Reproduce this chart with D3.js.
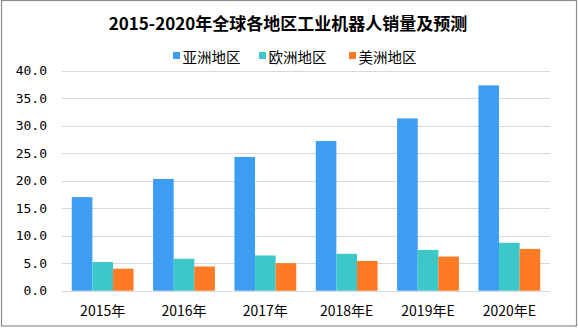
<!DOCTYPE html>
<html>
<head>
<meta charset="utf-8">
<script src="https://cdn.jsdelivr.net/npm/d3@7"></script>
<style>
  body { margin: 0; background: #fff; }
  svg { display: block; }
</style>
</head>
<body>
<div id="chart"></div>
<script>
const years = ['2015年', '2016年', '2017年', '2018年E', '2019年E', '2020年E'];
const seriesNames = ['亚洲地区', '欧洲地区', '美洲地区'];
const asia = [17.0, 20.3, 24.3, 27.2, 31.3, 37.3];
const europe = [5.2, 5.8, 6.4, 6.7, 7.4, 8.7];
const america = [4.0, 4.4, 5.0, 5.4, 6.2, 7.6];
const yTicks = [0, 5, 10, 15, 20, 25, 30, 35, 40];

const colors = ['#3d9df3', '#3cc8c8', '#fe7a24'];
const values = [asia, europe, america];

const width = 578, height = 328;
const margin = { top: 70.5, right: 28, bottom: 37.3, left: 62 };

const svg = d3.select('#chart')
  .append('svg')
  .attr('width', width)
  .attr('height', height);

// outer frame
svg.append('rect')
  .attr('x', 1.5).attr('y', 0.5)
  .attr('width', width - 3).attr('height', height - 2.5)
  .attr('fill', '#fff')
  .attr('stroke', '#8c8c8c')
  .attr('stroke-width', 1.2);

const x = d3.scaleBand()
  .domain(years)
  .range([margin.left, width - margin.right])
  .paddingInner(0.24)
  .paddingOuter(0.12);

const xSub = d3.scaleBand()
  .domain(seriesNames)
  .range([0, x.bandwidth()]);

const y = d3.scaleLinear()
  .domain([0, 40])
  .range([height - margin.bottom, margin.top]);

// grid lines
svg.append('g')
  .selectAll('line')
  .data(yTicks)
  .join('line')
  .attr('x1', margin.left)
  .attr('x2', width - margin.right)
  .attr('y1', d => Math.round(y(d)) + 0.5)
  .attr('y2', d => Math.round(y(d)) + 0.5)
  .attr('stroke', '#d9d9d9')
  .attr('stroke-width', 1);

// y labels
svg.append('g')
  .selectAll('text')
  .data(yTicks)
  .join('text')
  .attr('x', 47)
  .attr('y', d => y(d))
  .attr('dy', '0.35em')
  .attr('text-anchor', 'end')
  .style('font-family', '"DejaVu Sans Mono", monospace')
  .style('font-size', '13px')
  .style('fill', '#000')
  .text(d => d.toFixed(1));

// bars
const groups = svg.append('g')
  .selectAll('g')
  .data(years)
  .join('g')
  .attr('transform', d => `translate(${x(d)},0)`);

groups.selectAll('rect')
  .data((d, i) => seriesNames.map((s, j) => ({ s, v: values[j][i], c: colors[j] })))
  .join('rect')
  .attr('x', d => xSub(d.s))
  .attr('width', xSub.bandwidth())
  .attr('y', d => y(d.v))
  .attr('height', d => y(0) - y(d.v))
  .attr('fill', d => d.c);

// x labels
svg.append('g')
  .selectAll('text')
  .data(years)
  .join('text')
  .attr('x', d => x(d) + x.bandwidth() / 2)
  .attr('y', 311)
  .attr('dy', '0.35em')
  .attr('text-anchor', 'middle')
  .style('font-family', '"Noto Sans CJK SC", sans-serif')
  .style('font-size', '14px')
  .style('fill', '#000')
  .text(d => d);

// title
svg.append('text')
  .attr('x', 288)
  .attr('y', 24)
  .attr('dy', '0.35em')
  .attr('text-anchor', 'middle')
  .style('font-family', '"Noto Sans CJK SC", sans-serif')
  .style('font-weight', 'bold')
  .style('font-size', '17px')
  .style('fill', '#000')
  .text('2015-2020年全球各地区工业机器人销量及预测');

// legend
const legendX = [173, 259, 349];
const legend = svg.append('g')
  .selectAll('g')
  .data(seriesNames)
  .join('g')
  .attr('transform', (d, i) => `translate(${legendX[i]},58)`);

legend.append('rect')
  .attr('x', 0).attr('y', -6)
  .attr('width', 7).attr('height', 7)
  .attr('fill', (d, i) => colors[i]);

legend.append('text')
  .attr('x', 9.5)
  .attr('y', 0)
  .attr('dy', '0.35em')
  .style('font-family', '"Noto Sans CJK SC", sans-serif')
  .style('font-size', '14.5px')
  .style('fill', '#000')
  .text(d => d);
</script>
</body>
</html>
